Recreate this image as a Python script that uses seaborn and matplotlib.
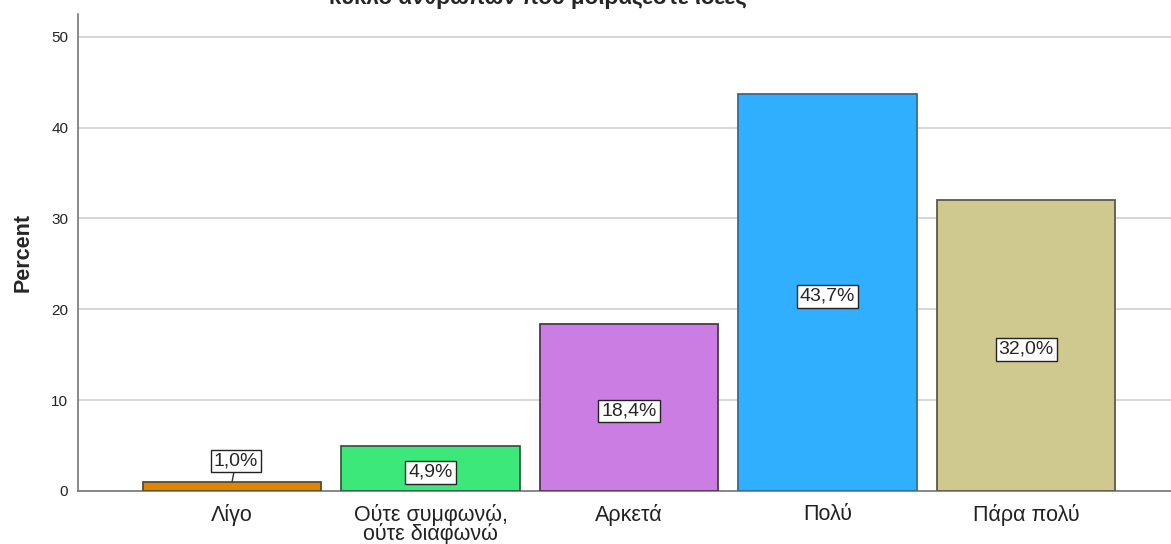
import matplotlib
matplotlib.use("Agg")
import matplotlib.pyplot as plt
import seaborn as sns
import pandas as pd

categories = ["Λίγο", "Ούτε συμφωνώ,\nούτε διαφωνώ", "Αρκετά", "Πολύ", "Πάρα πολύ"]
percents = [1.0, 4.9, 18.4, 43.7, 32.0]
value_labels = ["1,0%", "4,9%", "18,4%", "43,7%", "32,0%"]
colors = ["#DE8600", "#3DE87A", "#CB7DE3", "#30AEFF", "#D0C98F"]
edge_colors = ["#5a4a30", "#3a5a45", "#4a3a50", "#3a6a8a", "#5a5a48"]
title = "κύκλο ανθρώπων που μοιράζεστε ιδέες"

sns.set_theme(style="white")
plt.rcParams["font.family"] = ["Liberation Sans", "DejaVu Sans"]

df = pd.DataFrame({"cat": categories, "pct": percents})

fig = plt.figure(figsize=(11.71, 5.44), dpi=100)
ax = fig.add_axes([78 / 1171, (544 - 491) / 544, 1 - 78 / 1171, (491 - 14) / 544])

sns.barplot(data=df, x="cat", y="pct", hue="cat", palette=colors, legend=False,
            width=0.9, ax=ax, saturation=1, zorder=3)
for p, ec in zip(ax.patches, edge_colors):
    p.set_edgecolor(ec)
    p.set_linewidth(1.3)

ax.set_xlim(-0.776, 4.73)
ax.set_ylim(0, 52.5)
ax.set_yticks([0, 10, 20, 30, 40, 50])
ax.yaxis.grid(True, color="#d0d0d0", linewidth=1.2, zorder=0)
ax.set_axisbelow(True)
for s in ["top", "right"]:
    ax.spines[s].set_visible(False)
for s in ["left", "bottom"]:
    ax.spines[s].set_color("#777777")
    ax.spines[s].set_linewidth(1.2)
ax.tick_params(axis="y", labelsize=11, colors="#222222", length=0, pad=7)
ax.tick_params(axis="x", labelsize=15.5, colors="#222222", length=0, pad=9)
for t in ax.get_xticklabels():
    t.set_linespacing(0.88)
ax.set_xlabel("")
ax.set_ylabel("Percent", fontsize=15.5, fontweight="bold", labelpad=13)

box = dict(boxstyle="square,pad=0.15", fc="white", ec="#222222", lw=1)
for i, (v, lab) in enumerate(zip(percents, value_labels)):
    if v < 3:
        ax.annotate(lab, xy=(i, v), xytext=(i + 0.02, v + 2.3), ha="center", va="center",
                    fontsize=14, bbox=box, zorder=5,
                    arrowprops=dict(arrowstyle="-", color="#333333", lw=1, shrinkA=0, shrinkB=0))
    else:
        ax.text(i, v / 2 - 0.4, lab, ha="center", va="center", fontsize=14, bbox=box, zorder=5)

fig.text(538 / 1171, 1 - 9 / 544, title, ha="center", va="bottom", fontsize=16, fontweight="bold")

fig.savefig("out.png", dpi=100)
